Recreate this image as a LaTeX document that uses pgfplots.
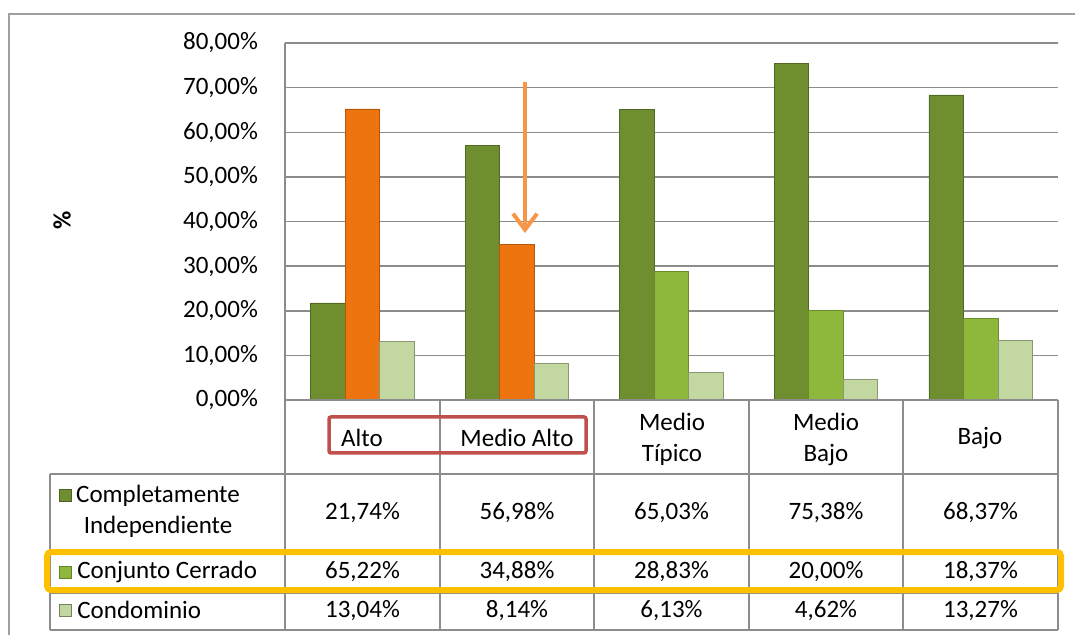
\documentclass[border=0pt]{standalone}
\usepackage{pgfplots}
\pgfplotsset{compat=1.18}
\usepackage{fontspec}
\setmainfont{Carlito}
\usetikzlibrary{arrows.meta}
\definecolor{gDark}{HTML}{6E8E30}
\definecolor{gMid}{HTML}{8DB83B}
\definecolor{gLight}{HTML}{C3D7A1}
\definecolor{cOrange}{HTML}{EE7410}
\definecolor{gridc}{HTML}{8C8C8C}
\definecolor{arrowc}{HTML}{F79646}
\definecolor{redbox}{HTML}{C0504D}
\definecolor{yelbox}{HTML}{FFC000}
\begin{document}
\begin{tikzpicture}[every node/.append style={font=\fontsize{12.5}{15.5}\selectfont}]
\begin{axis}[
  at={(142.5pt,-200pt)}, anchor=south west,
  scale only axis, width=386.5pt, height=178.5pt,
  xmin=-0.5, xmax=4.5, ymin=0, ymax=0.8,
  axis line style={draw=none},
  xtick=\empty,
  ytick={0,0.1,0.2,0.3,0.4,0.5,0.6,0.7,0.8},
  yticklabels={{0,00\%},{10,00\%},{20,00\%},{30,00\%},{40,00\%},{50,00\%},{60,00\%},{70,00\%},{80,00\%}},
  major tick length=0pt,
  ymajorgrids, grid style={gridc, line width=0.75pt},
  yticklabel style={anchor=east, xshift=-10pt},
  ybar=0pt, bar width=17.25pt,
  clip=false,
]
\addplot[fill=gDark, draw=gDark!75!black, bar shift=-17.25pt] coordinates {(0,0.2174) (1,0.5698) (2,0.6503) (3,0.7538) (4,0.6837)};
\addplot[fill=cOrange, draw=cOrange!75!black, bar shift=0pt] coordinates {(0,0.6522) (1,0.3488)};
\addplot[fill=gMid, draw=gMid!75!black, bar shift=0pt] coordinates {(2,0.2883) (3,0.2000) (4,0.1837)};
\addplot[fill=gLight, draw=gLight!70!black, bar shift=17.25pt] coordinates {(0,0.1304) (1,0.0814) (2,0.0613) (3,0.0462) (4,0.1327)};
\end{axis}
\begin{scope}[x=0.5pt,y=-0.5pt]
  % outer chart border
  \draw[gray!75, line width=0.9pt] (9,660) -- (9,14) -- (1090,14);
  % table / plot frame lines
  \draw[gridc, line width=0.75pt]
    (285,43) -- (285,630)
    (285,400) -- (1058,400)
    (50,474) -- (1058,474)
    (50,552) -- (1058,552)
    (50,593) -- (1058,593)
    (50,630) -- (1058,630)
    (50,474) -- (50,630);
  \foreach \xx in {440,594,749,903,1058} {\draw[gridc, line width=0.75pt] (\xx,400) -- (\xx,630);}
  % header labels
  \node at (362,438) {Alto};
  \node at (517,438) {Medio Alto};
  \node[align=center] at (672,439) {Medio\\Típico};
  \node[align=center] at (826,439) {Medio\\Bajo};
  \node at (980,438) {Bajo};
  % row labels
  \fill[gDark, draw=gDark!70!black] (59,489) rectangle (71,501);
  \node[align=center] at (158,511) {Completamente\\Independiente};
  \fill[gMid, draw=gMid!70!black] (59,566) rectangle (71,578);
  \node[anchor=west, inner sep=0pt] at (77,572) {Conjunto Cerrado};
  \fill[gLight, draw=gLight!60!black] (59,604) rectangle (71,616);
  \node[anchor=west, inner sep=0pt] at (77,610) {Condominio};
  % values: Completamente Independiente
  \node at (362.5,513) {21,74\%};
  \node at (517,513) {56,98\%};
  \node at (671.5,513) {65,03\%};
  \node at (826,513) {75,38\%};
  \node at (980.5,513) {68,37\%};
  % Conjunto Cerrado
  \node at (362.5,572) {65,22\%};
  \node at (517,572) {34,88\%};
  \node at (671.5,572) {28,83\%};
  \node at (826,572) {20,00\%};
  \node at (980.5,572) {18,37\%};
  % Condominio
  \node at (362.5,611) {13,04\%};
  \node at (517,611) {8,14\%};
  \node at (671.5,611) {6,13\%};
  \node at (826,611) {4,62\%};
  \node at (980.5,611) {13,27\%};
  % y label
  \node[rotate=90, font=\fontsize{12.5}{15}\selectfont\bfseries] at (62,220) {\%};
  % highlight boxes
  \draw[redbox, line width=1.75pt, rounded corners=1pt] (329,417) rectangle (586,453);
  \draw[yelbox, line width=3pt, rounded corners=2pt] (47,552) rectangle (1061,590);
  % arrow
  \draw[arrowc, line width=2pt, -{Straight Barb[length=8pt,width=12pt]}] (525,82) -- (525,233);
  \pgfresetboundingbox
  \path (0,0) rectangle (1075,635);
\end{scope}
\end{tikzpicture}
\end{document}
